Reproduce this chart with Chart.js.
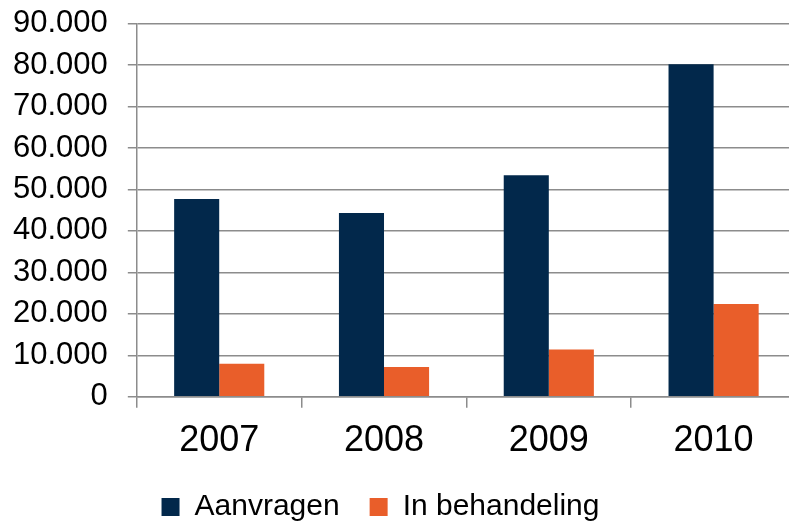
<!DOCTYPE html>
<html><head><meta charset="utf-8">
<script src="https://cdn.jsdelivr.net/npm/chart.js@4/dist/chart.umd.min.js"></script>
<style>
html,body{margin:0;padding:0;background:#fff;overflow:hidden}
#wrap{width:789px;height:525px;overflow:hidden;position:relative;background:#fff}
#box{width:820px;height:568px;position:absolute;left:-20px;top:-15px}
</style></head><body>
<div id="wrap"><div id="box"><canvas id="c"></canvas></div></div>
<script>
const categories = ['2007', '2008', '2009', '2010'];
const aanvragen = [47700, 44300, 53400, 80200];
const inBehandeling = [8000, 7200, 11400, 22400];
const seriesNames = ['Aanvragen', 'In behandeling'];
const yMax = 90000;
const yStep = 10000;

const gridColor = '#8c8c8c';
const legendShiftX = -14;
const legendShiftY = -13;

function fmt(v) {
  return String(v).replace(/\B(?=(\d{3})+(?!\d))/g, '.');
}

const legendShift = {
  id: 'legendShift',
  afterLayout(chart) {
    const l = chart.legend;
    if (l) {
      l.left += legendShiftX; l.right += legendShiftX;
      l.top += legendShiftY; l.bottom += legendShiftY;
    }
  }
};

new Chart(document.getElementById('c'), {
  type: 'bar',
  data: {
    labels: categories,
    datasets: [
      { label: seriesNames[0], data: aanvragen, backgroundColor: '#02284B', borderWidth: 0,
        barPercentage: 1, categoryPercentage: 0.547 },
      { label: seriesNames[1], data: inBehandeling, backgroundColor: '#E95E2A', borderWidth: 0,
        barPercentage: 1, categoryPercentage: 0.547 }
    ]
  },
  options: {
    responsive: true,
    maintainAspectRatio: false,
    animation: false,
    layout: { padding: { left: 13, right: 4, top: 4, bottom: 8 } },
    font: { family: "'Liberation Sans', Arial, sans-serif" },
    scales: {
      x: {
        grid: { display: true, drawOnChartArea: false, drawTicks: true, tickLength: 11,
                color: gridColor, lineWidth: 1.5, offset: true },
        border: { color: gridColor, width: 1.5 },
        ticks: { color: '#000', padding: 12,
                 font: { family: "'Liberation Sans', Arial, sans-serif", size: 36 } }
      },
      y: {
        min: 0, max: yMax,
        grid: { color: gridColor, lineWidth: 1.5, tickLength: 9 },
        border: { color: gridColor, width: 1.5 },
        ticks: { stepSize: yStep, color: '#000', padding: 20,
                 font: { family: "'Liberation Sans', Arial, sans-serif", size: 31 },
                 callback: (v) => fmt(v) }
      }
    },
    plugins: {
      tooltip: { enabled: false },
      legend: {
        position: 'bottom',
        labels: { boxWidth: 18, boxHeight: 18, padding: 30, color: '#000',
                  font: { family: "'Liberation Sans', Arial, sans-serif", size: 30 } }
      }
    }
  },
  plugins: [legendShift]
});
</script>
</body></html>
